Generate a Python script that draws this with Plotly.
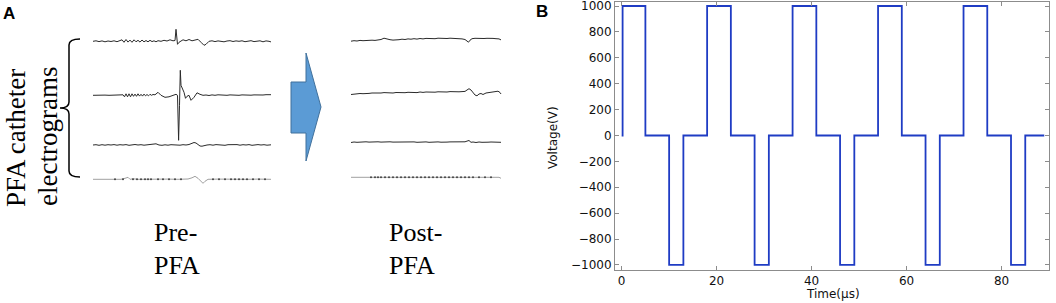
import plotly.graph_objects as go

# ---------------- Panel B data: biphasic pulse train ----------------
pulse_time_us = [0, 0.2, 5, 10, 13, 18, 23, 28, 31, 36, 41, 46, 49, 54, 59, 64, 67, 72, 77, 82, 85, 89]
pulse_voltage = [0, 1000, 0, -1000, 0, 1000, 0, -1000, 0, 1000, 0, -1000, 0, 1000, 0, -1000, 0, 1000, 0, -1000, 0, 0]
x_ticks = [0, 20, 40, 60, 80]
y_ticks = [1000, 800, 600, 400, 200, 0, -200, -400, -600, -800, -1000]

# ---------------- Panel A data: electrogram traces (sample, deflection) ----------------
pre_egm_1 = [(0,0),(3,0.5),(6,-0.3),(9,0.4),(12,-0.5),(15,0.3),(18,-0.2),(21,0.5),(24,-0.4),(27,0.3),
             (29,1.5),(31,-1),(33,1.8),(35,-0.8),(37,1.2),(39,-1),(41,1.5),(43,-0.5),(45,1),(47,-0.8),
             (49,1.3),(51,-0.6),(53,0.8),(55,-0.5),(57,1),(59,-0.3),(61,0.5),(63,-0.5),(65,0.6),
             (68,0),(71,1),(74,0.3),(77,1.5),(80,0.5),(82,0.8),(83,12),(84.5,-3),(86,-1),
             (88,0.5),(90,1.5),(93,0.5),(96,1.8),(99,0.5),(102,1),(105,2),(108,-1),(111,-4),(113,-3),(116,0),
             (119,0.5),(122,-0.3),(125,0.4),(128,0),(131,-0.5),(134,0.3),(137,0.6),(140,-0.2),(143,0.4),
             (146,0),(149,0.5),(152,-0.4),(155,0.3),(158,0.6),(161,-0.3),(164,0.2),(167,0.5),(170,-0.5),
             (173,0.4),(176,0),(178,-0.6)]
pre_egm_2 = [(0,0),(4,0.2),(8,-0.2),(12,0.2),(16,0),(20,0.2),(24,-0.2),(28,0),
             (30,0.5),(31.5,-1.5),(33,1.5),(34.5,-1.5),(36,1.5),(37.5,-1.5),(39,1.5),(40.5,-1),(42,1.2),
             (43.5,-1),(45,1.5),(46.5,-0.8),(48,1),(49.5,-0.8),(51,1.2),(52.5,-0.5),(54,0.8),(55.5,-0.5),
             (57,1),(58.5,0),(60,0.8),(62,0.5),
             (65,3),(68,0),(72,-2),(76,-1.5),(80,-0.5),(83,1),(84.5,0),(85.6,-45),(86.5,-10),(87.3,25),
             (88,10),(89,8),(91,3),(92.5,-3),(94,-1),(96,0),(98,-5),(101,-2),(104,2.5),(107,1),(110,0),
             (113,0.3),(116,-0.2),(119,0.4),(122,0),(125,0.5),(128,0.2),(131,0.5),(134,0),(137,0.4),
             (140,0.2),(143,0.5),(146,0),(149,0.4),(152,0.2),(155,0.5),(158,0.1),(161,0.4),(164,0.2),
             (167,0.5),(170,0.3),(173,0.6),(176,0.5),(178,0.6)]
pre_egm_3 = [(0,0),(3,0.3),(6,-0.3),(9,0.3),(12,-0.2),(15,0.3),(18,0),(21,0.4),(24,-0.2),(27,0.3),
             (30,0),(33,0.4),(36,-0.3),(39,0.2),(42,0.5),(45,0),(48,0.3),(51,-0.2),(54,0.2),(57,0),
             (60,0.3),(63,1.2),(66,0),(69,-0.3),(72,0.2),(75,-0.2),(78,0.3),(81,0),(84,0.3),(87,-0.2),
             (90,0.3),(93,0),(96,0.5),(99,1.5),(101,2.5),(103,2),(105,0.5),(107,-1),(109,-1.2),(111,-0.5),
             (114,0),(117,0.3),(120,-0.2),(123,0.4),(126,0),(129,0.3),(132,-0.3),(135,0.3),(138,0.5),
             (141,0),(144,0.4),(147,-0.2),(150,0.3),(153,0),(156,0.4),(159,-0.3),(162,0.2),(165,0.4),
             (168,0),(171,0.3),(174,-0.2),(178,0.2)]
pre_egm_4 = [(0,0),(10,0),(20,0.2),(28,0),(32,1),(35,2),(37,0),(40,0.5),(45,0),(55,0.3),(65,0),(75,0.2),
             (85,0),(95,0.3),(99,1.5),(102,3),(105,1),(108,-2.5),(110,-4),(112,-2),(115,0),(125,0.2),
             (135,0),(145,0.2),(155,0),(165,0.2),(178,0)]
pre_egm_4_dots = [22, 30, 40, 44, 48, 52, 55, 58, 65, 70, 76, 82, 88, 120, 126, 132, 138, 142, 146, 150, 154, 160, 166, 172]

post_egm_1 = [(0,-0.5),(3,0),(6,-0.3),(9,0.3),(12,0),(15,0.4),(18,0.2),(21,0.5),(24,0.3),(27,0.6),(30,1.2),
              (33,2.5),(36,1.5),(39,1),(42,0.6),(45,0.5),(48,1),(51,1.5),(54,1.2),(57,1.8),(60,1.5),(63,2),
              (66,1.6),(69,2.2),(72,1.8),(75,2.3),(78,2),(81,2.4),(84,2),(87,2.5),(90,2.2),(93,2.6),(96,2.2),
              (99,2.5),(102,2.3),(105,2.6),(108,2),(111,1.8),(114,1.2),(116,-0.5),(117.5,-1.5),(119,0.5),
              (121,2),(124,2.4),(127,2.2),(130,2.5),(133,2.2),(136,2.4),(139,2),(142,2.3),(145,2),(148,1.8),(150,0.8)]
post_egm_2 = [(0,-0.5),(3,0),(6,0.3),(9,0.5),(12,0.3),(15,0.8),(18,0.6),(21,1),(24,0.8),(27,1.2),(30,1),
              (33,1.4),(36,1.2),(39,1.3),(42,1),(45,1.5),(48,1.2),(51,1.6),(54,1.3),(57,1.7),(60,1.5),(63,1.8),
              (66,1.4),(69,2),(72,1.6),(75,2),(78,1.7),(81,2.1),(84,1.8),(87,2.2),(90,1.9),(93,2.3),(96,2),
              (99,2.4),(102,2.1),(105,2.5),(108,2.2),(111,2.4),(114,2.6),(116,4),(118,5.3),(120,4),(122,1.5),
              (124,-1),(126,-1.8),(128,0),(130,0.5),(132,-0.5),(135,1),(138,1.5),(141,2),(144,2.3),(147,2.8),
              (149,1.5),(150,0)]
post_egm_3 = [(0,-0.2),(3,0.3),(6,0),(9,0.4),(12,0.1),(15,0.5),(18,0.2),(21,0.4),(24,0),(27,0.5),(30,0.2),
              (33,0.4),(36,0),(39,0.5),(42,0.2),(45,0.3),(48,0),(51,0.4),(54,0.1),(57,0.5),(60,0.2),(63,0.4),
              (66,0),(69,0.3),(72,0.1),(75,0.4),(78,0),(81,0.3),(84,0.2),(87,0.4),(90,0.1),(93,0.5),(96,0.2),
              (99,0.4),(102,0.3),(105,0.5),(108,0.4),(111,0.6),(114,0.5),(116,1.2),(118,1.8),(120,0),(122,0.3),
              (125,-0.2),(128,0.3),(131,0),(134,0.4),(137,0.1),(140,0.3),(143,0),(146,0.3),(150,0)]
post_egm_4 = [(0,0),(30,0),(60,0),(90,0),(120,0),(148,0),(150,-1)]
post_egm_4_dots = [20, 24, 27, 30, 34, 38, 42, 46, 50, 54, 58, 62, 66, 70, 74, 78, 82, 86, 90, 94,
                   98, 102, 106, 110, 114, 118, 122, 128, 134, 140]

# ---------------- layout constants (pixel canvas for panel A) ----------------
W, H = 1056, 303
PRE_X0, POST_X0 = 93, 351
PRE_BASE = [41.3, 95.3, 145, 179.3]
POST_BASE = [40.7, 94, 142.3, 177.3]
EGM_COLOR = "#2a2a2a"
GRAY_EGM = "#a0a0a0"

fig = go.Figure()

def add_egm(pairs, x0, base, color=EGM_COLOR, width=1.0):
    xs = [x0 + p[0] for p in pairs]
    ys = [base - p[1] for p in pairs]
    fig.add_trace(go.Scatter(x=xs, y=ys, mode="lines", line=dict(color=color, width=width),
                             xaxis="x2", yaxis="y2", hoverinfo="skip", showlegend=False))

def add_dots(pos, x0, base):
    fig.add_trace(go.Scatter(x=[x0 + p for p in pos], y=[base] * len(pos), mode="markers",
                             marker=dict(color="#444", size=2), xaxis="x2", yaxis="y2",
                             hoverinfo="skip", showlegend=False))

for pairs, base in zip([pre_egm_1, pre_egm_2, pre_egm_3], PRE_BASE[:3]):
    add_egm(pairs, PRE_X0, base)
add_egm(pre_egm_4, PRE_X0, PRE_BASE[3], color=GRAY_EGM)
add_dots(pre_egm_4_dots, PRE_X0, PRE_BASE[3])

for pairs, base in zip([post_egm_1, post_egm_2, post_egm_3], POST_BASE[:3]):
    add_egm(pairs, POST_X0, base)
add_egm(post_egm_4, POST_X0, POST_BASE[3], color=GRAY_EGM)
add_dots(post_egm_4_dots, POST_X0, POST_BASE[3])

# Panel B trace
fig.add_trace(go.Scatter(x=pulse_time_us, y=pulse_voltage, mode="lines", line_shape="hv",
                         line=dict(color="#1f3cc4", width=1.8), showlegend=False))

# Shapes: arrow and brace (panel A)
fig.add_shape(type="path", xref="x2", yref="y2",
              path="M291,82 L306,82 L306,53 L321,107 L306,161 L306,133 L291,133 Z",
              fillcolor="#5b9bd5", line=dict(color="#41719c", width=1))
fig.add_shape(type="path", xref="x2", yref="y2",
              path="M80,39 Q69,39 69,45 L69,102 Q69,108 60,108 Q69,108 69,114 L69,171 Q69,177 80,177",
              line=dict(color="#000", width=1.5))

serif = "Liberation Serif"
ann = []
ann.append(dict(text="<b>A</b>", x=9, y=13, font=dict(family="Liberation Sans", size=17, color="#000")))
ann.append(dict(text="<b>B</b>", x=541.5, y=11, font=dict(family="Liberation Sans", size=17, color="#000")))
ann.append(dict(text="PFA catheter", x=16, y=138, textangle=-90, font=dict(family=serif, size=27, color="#000")))
ann.append(dict(text="electrograms", x=48, y=137, textangle=-90, font=dict(family=serif, size=27, color="#000")))
ann.append(dict(text="Pre-", x=175, y=232, font=dict(family=serif, size=26, color="#000")))
ann.append(dict(text="PFA", x=176.5, y=265, font=dict(family=serif, size=26, color="#000")))
ann.append(dict(text="Post-", x=415.5, y=232, font=dict(family=serif, size=26, color="#000")))
ann.append(dict(text="PFA", x=411.5, y=265, font=dict(family=serif, size=26, color="#000")))
ann.append(dict(text="Time(\u03bcs)", x=833, y=293.5, font=dict(family="DejaVu Sans", size=12, color="#111")))
ann.append(dict(text="Voltage(V)", x=553, y=138, textangle=-90, font=dict(family="DejaVu Sans", size=12, color="#111")))
for a in ann:
    fig.add_annotation(xref="x2", yref="y2", showarrow=False, xanchor="center", yanchor="middle", **a)

axis_common = dict(showline=True, linecolor="#8c8c8c", linewidth=1, mirror="ticks", ticks="inside",
                   ticklen=4, tickcolor="#8c8c8c", showgrid=False, zeroline=False, automargin=False,
                   ticklabeloverflow="allow",
                   tickfont=dict(family="DejaVu Sans", size=12, color="#111"))

fig.update_layout(
    width=W, height=H, autosize=False,
    margin=dict(l=0, r=0, t=0, b=0, autoexpand=False),
    paper_bgcolor="white", plot_bgcolor="rgba(0,0,0,0)",
    xaxis=dict(domain=[615 / W, 1049 / W], range=[-1.4, 90], tickvals=x_ticks, anchor="y", **axis_common),
    yaxis=dict(domain=[(H - 270) / H, (H - 2) / H], range=[-1039, 1031], tickvals=y_ticks, anchor="x", **axis_common),
    xaxis2=dict(domain=[0, 1], range=[0, W], visible=False, anchor="y2", fixedrange=True, automargin=False),
    yaxis2=dict(domain=[0, 1], range=[H, 0], visible=False, anchor="x2", fixedrange=True, automargin=False),
)

fig.write_html("out.html", config={"displayModeBar": False},
               post_script="document.body.style.margin='0';document.body.style.overflow='hidden';")
